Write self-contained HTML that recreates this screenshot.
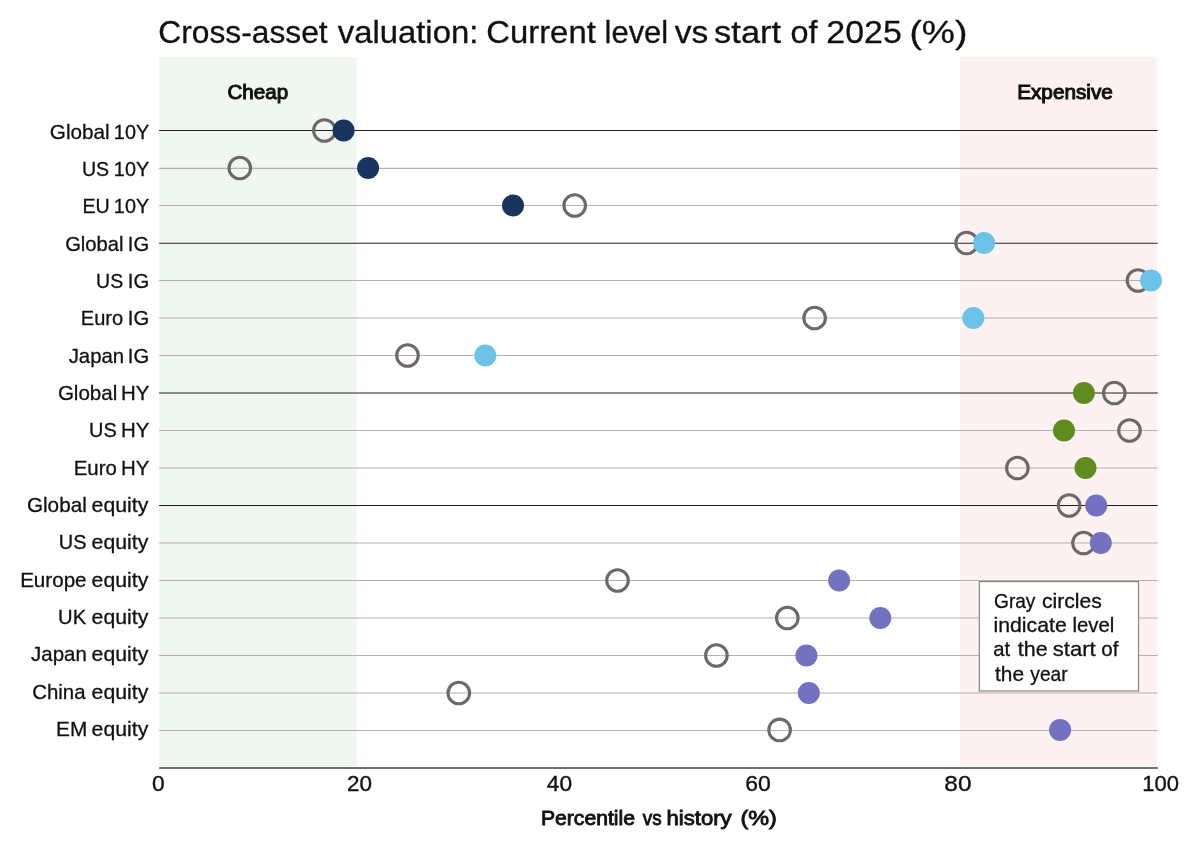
<!DOCTYPE html>
<html><head><meta charset="utf-8"><title>Cross-asset valuation</title>
<style>html,body{margin:0;padding:0;background:#fff}svg{display:block}text{font-family:"Liberation Sans",sans-serif;fill:#111}</style></head><body>
<svg width="1200" height="845" viewBox="0 0 1200 845">
<rect width="1200" height="845" fill="#fff"/>
<rect x="159.3" y="57.1" width="197.3" height="709.3" fill="#f0f7f1"/>
<rect x="960.2" y="57.1" width="196.8" height="709.3" fill="#fef1f1"/>
<line x1="159.1" y1="130.50" x2="1157.8" y2="130.50" stroke="#222" stroke-width="1.2"/>
<line x1="159.1" y1="168.40" x2="1157.8" y2="168.40" stroke="#b2b2b2" stroke-width="1.1"/>
<line x1="159.1" y1="205.50" x2="1157.8" y2="205.50" stroke="#b2b2b2" stroke-width="1.1"/>
<line x1="159.1" y1="243.25" x2="1157.8" y2="243.25" stroke="#222" stroke-width="1.2"/>
<line x1="159.1" y1="280.50" x2="1157.8" y2="280.50" stroke="#b2b2b2" stroke-width="1.1"/>
<line x1="159.1" y1="318.00" x2="1157.8" y2="318.00" stroke="#b2b2b2" stroke-width="1.1"/>
<line x1="159.1" y1="355.50" x2="1157.8" y2="355.50" stroke="#b2b2b2" stroke-width="1.1"/>
<line x1="159.1" y1="393.00" x2="1157.8" y2="393.00" stroke="#222" stroke-width="1.2"/>
<line x1="159.1" y1="430.50" x2="1157.8" y2="430.50" stroke="#b2b2b2" stroke-width="1.1"/>
<line x1="159.1" y1="468.00" x2="1157.8" y2="468.00" stroke="#b2b2b2" stroke-width="1.1"/>
<line x1="159.1" y1="505.50" x2="1157.8" y2="505.50" stroke="#1c1c1c" stroke-width="1.1"/>
<line x1="159.1" y1="543.00" x2="1157.8" y2="543.00" stroke="#b2b2b2" stroke-width="1.1"/>
<line x1="159.1" y1="580.50" x2="1157.8" y2="580.50" stroke="#b2b2b2" stroke-width="1.1"/>
<line x1="159.1" y1="618.00" x2="1157.8" y2="618.00" stroke="#b2b2b2" stroke-width="1.1"/>
<line x1="159.1" y1="655.50" x2="1157.8" y2="655.50" stroke="#b2b2b2" stroke-width="1.1"/>
<line x1="159.1" y1="693.00" x2="1157.8" y2="693.00" stroke="#b2b2b2" stroke-width="1.1"/>
<line x1="159.1" y1="730.50" x2="1157.8" y2="730.50" stroke="#b2b2b2" stroke-width="1.1"/>
<line x1="159.2" y1="767.9" x2="1157.8" y2="767.9" stroke="#726e6e" stroke-width="2.0"/>
<circle cx="324.4" cy="130.50" r="10.8" fill="none" stroke="#6e6868" stroke-width="3.1"/>
<circle cx="239.8" cy="168.00" r="10.8" fill="none" stroke="#6e6868" stroke-width="3.1"/>
<circle cx="574.7" cy="205.50" r="10.8" fill="none" stroke="#6e6868" stroke-width="3.1"/>
<circle cx="966.6" cy="243.00" r="10.8" fill="none" stroke="#6e6868" stroke-width="3.1"/>
<circle cx="1138.0" cy="280.50" r="10.8" fill="none" stroke="#6e6868" stroke-width="3.1"/>
<circle cx="814.6" cy="318.00" r="10.8" fill="none" stroke="#6e6868" stroke-width="3.1"/>
<circle cx="407.5" cy="355.50" r="10.8" fill="none" stroke="#6e6868" stroke-width="3.1"/>
<circle cx="1114.3" cy="393.00" r="10.8" fill="none" stroke="#6e6868" stroke-width="3.1"/>
<circle cx="1129.5" cy="430.50" r="10.8" fill="none" stroke="#6e6868" stroke-width="3.1"/>
<circle cx="1017.4" cy="468.00" r="10.8" fill="none" stroke="#6e6868" stroke-width="3.1"/>
<circle cx="1069.1" cy="505.50" r="10.8" fill="none" stroke="#6e6868" stroke-width="3.1"/>
<circle cx="1083.5" cy="543.00" r="10.8" fill="none" stroke="#6e6868" stroke-width="3.1"/>
<circle cx="617.5" cy="580.50" r="10.8" fill="none" stroke="#6e6868" stroke-width="3.1"/>
<circle cx="787.3" cy="618.00" r="10.8" fill="none" stroke="#6e6868" stroke-width="3.1"/>
<circle cx="716.4" cy="655.50" r="10.8" fill="none" stroke="#6e6868" stroke-width="3.1"/>
<circle cx="458.8" cy="693.00" r="10.8" fill="none" stroke="#6e6868" stroke-width="3.1"/>
<circle cx="779.6" cy="729.90" r="10.8" fill="none" stroke="#6e6868" stroke-width="3.1"/>
<circle cx="343.6" cy="130.50" r="11" fill="#19355f"/>
<circle cx="368.1" cy="168.00" r="11" fill="#19355f"/>
<circle cx="513.0" cy="205.50" r="11" fill="#19355f"/>
<circle cx="984.1" cy="243.00" r="11" fill="#6bc4e8"/>
<circle cx="1151.0" cy="280.50" r="11" fill="#6bc4e8"/>
<circle cx="973.3" cy="318.00" r="11" fill="#6bc4e8"/>
<circle cx="485.3" cy="355.50" r="11" fill="#6bc4e8"/>
<circle cx="1083.9" cy="393.00" r="11" fill="#5f8c1e"/>
<circle cx="1064.0" cy="430.50" r="11" fill="#5f8c1e"/>
<circle cx="1085.5" cy="468.00" r="11" fill="#5f8c1e"/>
<circle cx="1096.2" cy="505.50" r="11" fill="#7272c0"/>
<circle cx="1100.8" cy="543.00" r="11" fill="#7272c0"/>
<circle cx="839.1" cy="580.50" r="11" fill="#7272c0"/>
<circle cx="880.3" cy="618.00" r="11" fill="#7272c0"/>
<circle cx="806.4" cy="655.50" r="11" fill="#7272c0"/>
<circle cx="808.8" cy="693.00" r="11" fill="#7272c0"/>
<circle cx="1060.1" cy="729.90" r="11" fill="#7272c0"/>
<rect x="979.3" y="581.6" width="159.2" height="109.4" fill="#fff" stroke="#8a8686" stroke-width="1.2"/>
<g style="will-change:transform;mix-blend-mode:multiply">
<text x="158.34" y="43.3" font-size="31.8" stroke="#111" stroke-width="0.3" textLength="169.27" lengthAdjust="spacingAndGlyphs">Cross-asset</text>
<text x="337.75" y="43.3" font-size="31.8" stroke="#111" stroke-width="0.3" textLength="140.52" lengthAdjust="spacingAndGlyphs">valuation:</text>
<text x="486.29" y="43.3" font-size="31.8" stroke="#111" stroke-width="0.3" textLength="109.49" lengthAdjust="spacingAndGlyphs">Current</text>
<text x="604.58" y="43.3" font-size="31.8" stroke="#111" stroke-width="0.3" textLength="63.62" lengthAdjust="spacingAndGlyphs">level</text>
<text x="674.75" y="43.3" font-size="31.8" stroke="#111" stroke-width="0.3" textLength="33.53" lengthAdjust="spacingAndGlyphs">vs</text>
<text x="714.10" y="43.3" font-size="31.8" stroke="#111" stroke-width="0.3" textLength="67.00" lengthAdjust="spacingAndGlyphs">start</text>
<text x="790.61" y="43.3" font-size="31.8" stroke="#111" stroke-width="0.3" textLength="27.02" lengthAdjust="spacingAndGlyphs">of</text>
<text x="826.33" y="43.3" font-size="31.8" stroke="#111" stroke-width="0.3" textLength="75.49" lengthAdjust="spacingAndGlyphs">2025</text>
<text x="909.41" y="43.3" font-size="31.8" stroke="#111" stroke-width="0.3" textLength="57.94" lengthAdjust="spacingAndGlyphs">(%)</text>
<text x="227.46" y="98.5" font-size="19.6" stroke="#111" stroke-width="1.0" textLength="60.70" lengthAdjust="spacingAndGlyphs">Cheap</text>
<text x="1017.17" y="98.5" font-size="19.6" stroke="#111" stroke-width="1.0" textLength="95.68" lengthAdjust="spacingAndGlyphs">Expensive</text>
<text x="49.88" y="138.8" font-size="20.7" stroke="#111" stroke-width="0.3" textLength="59.83" lengthAdjust="spacingAndGlyphs">Global</text>
<text x="113.87" y="138.8" font-size="20.7" stroke="#111" stroke-width="0.3" textLength="35.33" lengthAdjust="spacingAndGlyphs">10Y</text>
<text x="81.88" y="176.1" font-size="20.7" stroke="#111" stroke-width="0.3" textLength="27.20" lengthAdjust="spacingAndGlyphs">US</text>
<text x="113.87" y="176.1" font-size="20.7" stroke="#111" stroke-width="0.3" textLength="35.33" lengthAdjust="spacingAndGlyphs">10Y</text>
<text x="82.49" y="213.4" font-size="20.7" stroke="#111" stroke-width="0.3" textLength="27.27" lengthAdjust="spacingAndGlyphs">EU</text>
<text x="113.87" y="213.4" font-size="20.7" stroke="#111" stroke-width="0.3" textLength="35.33" lengthAdjust="spacingAndGlyphs">10Y</text>
<text x="65.17" y="250.7" font-size="20.7" stroke="#111" stroke-width="0.3" textLength="58.41" lengthAdjust="spacingAndGlyphs">Global</text>
<text x="127.80" y="250.7" font-size="20.7" stroke="#111" stroke-width="0.3" textLength="21.37" lengthAdjust="spacingAndGlyphs">IG</text>
<text x="96.10" y="288.1" font-size="20.7" stroke="#111" stroke-width="0.3" textLength="27.13" lengthAdjust="spacingAndGlyphs">US</text>
<text x="127.80" y="288.1" font-size="20.7" stroke="#111" stroke-width="0.3" textLength="21.37" lengthAdjust="spacingAndGlyphs">IG</text>
<text x="80.79" y="325.4" font-size="20.7" stroke="#111" stroke-width="0.3" textLength="42.33" lengthAdjust="spacingAndGlyphs">Euro</text>
<text x="127.80" y="325.4" font-size="20.7" stroke="#111" stroke-width="0.3" textLength="21.37" lengthAdjust="spacingAndGlyphs">IG</text>
<text x="68.67" y="362.7" font-size="20.7" stroke="#111" stroke-width="0.3" textLength="55.54" lengthAdjust="spacingAndGlyphs">Japan</text>
<text x="127.80" y="362.7" font-size="20.7" stroke="#111" stroke-width="0.3" textLength="21.37" lengthAdjust="spacingAndGlyphs">IG</text>
<text x="57.88" y="400.0" font-size="20.7" stroke="#111" stroke-width="0.3" textLength="59.45" lengthAdjust="spacingAndGlyphs">Global</text>
<text x="121.05" y="400.0" font-size="20.7" stroke="#111" stroke-width="0.3" textLength="28.39" lengthAdjust="spacingAndGlyphs">HY</text>
<text x="89.11" y="437.3" font-size="20.7" stroke="#111" stroke-width="0.3" textLength="27.74" lengthAdjust="spacingAndGlyphs">US</text>
<text x="121.05" y="437.3" font-size="20.7" stroke="#111" stroke-width="0.3" textLength="28.39" lengthAdjust="spacingAndGlyphs">HY</text>
<text x="73.76" y="474.6" font-size="20.7" stroke="#111" stroke-width="0.3" textLength="43.05" lengthAdjust="spacingAndGlyphs">Euro</text>
<text x="121.05" y="474.6" font-size="20.7" stroke="#111" stroke-width="0.3" textLength="28.39" lengthAdjust="spacingAndGlyphs">HY</text>
<text x="26.92" y="511.9" font-size="20.7" stroke="#111" stroke-width="0.3" textLength="59.89" lengthAdjust="spacingAndGlyphs">Global</text>
<text x="91.60" y="511.9" font-size="20.7" stroke="#111" stroke-width="0.3" textLength="56.68" lengthAdjust="spacingAndGlyphs">equity</text>
<text x="58.84" y="549.2" font-size="20.7" stroke="#111" stroke-width="0.3" textLength="27.66" lengthAdjust="spacingAndGlyphs">US</text>
<text x="91.60" y="549.2" font-size="20.7" stroke="#111" stroke-width="0.3" textLength="56.68" lengthAdjust="spacingAndGlyphs">equity</text>
<text x="20.13" y="586.5" font-size="20.7" stroke="#111" stroke-width="0.3" textLength="66.46" lengthAdjust="spacingAndGlyphs">Europe</text>
<text x="91.60" y="586.5" font-size="20.7" stroke="#111" stroke-width="0.3" textLength="56.68" lengthAdjust="spacingAndGlyphs">equity</text>
<text x="58.08" y="623.9" font-size="20.7" stroke="#111" stroke-width="0.3" textLength="28.07" lengthAdjust="spacingAndGlyphs">UK</text>
<text x="91.60" y="623.9" font-size="20.7" stroke="#111" stroke-width="0.3" textLength="56.68" lengthAdjust="spacingAndGlyphs">equity</text>
<text x="31.12" y="661.2" font-size="20.7" stroke="#111" stroke-width="0.3" textLength="55.65" lengthAdjust="spacingAndGlyphs">Japan</text>
<text x="91.60" y="661.2" font-size="20.7" stroke="#111" stroke-width="0.3" textLength="56.68" lengthAdjust="spacingAndGlyphs">equity</text>
<text x="32.16" y="698.5" font-size="20.7" stroke="#111" stroke-width="0.3" textLength="53.40" lengthAdjust="spacingAndGlyphs">China</text>
<text x="91.60" y="698.5" font-size="20.7" stroke="#111" stroke-width="0.3" textLength="56.68" lengthAdjust="spacingAndGlyphs">equity</text>
<text x="56.04" y="735.8" font-size="20.7" stroke="#111" stroke-width="0.3" textLength="31.18" lengthAdjust="spacingAndGlyphs">EM</text>
<text x="91.60" y="735.8" font-size="20.7" stroke="#111" stroke-width="0.3" textLength="56.68" lengthAdjust="spacingAndGlyphs">equity</text>
<text x="152.05" y="791.0" font-size="21.4" stroke="#111" stroke-width="0.35" textLength="12.66" lengthAdjust="spacingAndGlyphs">0</text>
<text x="346.91" y="791.0" font-size="21.4" stroke="#111" stroke-width="0.35" textLength="25.01" lengthAdjust="spacingAndGlyphs">20</text>
<text x="546.85" y="791.0" font-size="21.4" stroke="#111" stroke-width="0.35" textLength="25.27" lengthAdjust="spacingAndGlyphs">40</text>
<text x="745.19" y="791.0" font-size="21.4" stroke="#111" stroke-width="0.35" textLength="25.61" lengthAdjust="spacingAndGlyphs">60</text>
<text x="944.39" y="791.0" font-size="21.4" stroke="#111" stroke-width="0.35" textLength="27.01" lengthAdjust="spacingAndGlyphs">80</text>
<text x="1142.36" y="791.0" font-size="21.4" stroke="#111" stroke-width="0.35" textLength="36.77" lengthAdjust="spacingAndGlyphs">100</text>
<text x="540.97" y="825.3" font-size="19.7" stroke="#111" stroke-width="0.85" textLength="94.01" lengthAdjust="spacingAndGlyphs">Percentile</text>
<text x="642.80" y="825.3" font-size="19.7" stroke="#111" stroke-width="0.85" textLength="18.72" lengthAdjust="spacingAndGlyphs">vs</text>
<text x="666.60" y="825.3" font-size="19.7" stroke="#111" stroke-width="0.85" textLength="65.02" lengthAdjust="spacingAndGlyphs">history</text>
<text x="740.47" y="825.3" font-size="19.7" stroke="#111" stroke-width="0.85" textLength="36.39" lengthAdjust="spacingAndGlyphs">(%)</text>
<text x="994.04" y="607.6" font-size="20.4" stroke="#111" stroke-width="0.3" textLength="41.37" lengthAdjust="spacingAndGlyphs">Gray</text>
<text x="1042.01" y="607.6" font-size="20.4" stroke="#111" stroke-width="0.3" textLength="59.81" lengthAdjust="spacingAndGlyphs">circles</text>
<text x="993.47" y="631.9" font-size="20.4" stroke="#111" stroke-width="0.3" textLength="73.34" lengthAdjust="spacingAndGlyphs">indicate</text>
<text x="1072.49" y="631.9" font-size="20.4" stroke="#111" stroke-width="0.3" textLength="41.83" lengthAdjust="spacingAndGlyphs">level</text>
<text x="993.33" y="656.2" font-size="20.4" stroke="#111" stroke-width="0.3" textLength="16.88" lengthAdjust="spacingAndGlyphs">at</text>
<text x="1017.77" y="656.2" font-size="20.4" stroke="#111" stroke-width="0.3" textLength="29.85" lengthAdjust="spacingAndGlyphs">the</text>
<text x="1052.79" y="656.2" font-size="20.4" stroke="#111" stroke-width="0.3" textLength="42.84" lengthAdjust="spacingAndGlyphs">start</text>
<text x="1101.35" y="656.2" font-size="20.4" stroke="#111" stroke-width="0.3" textLength="17.14" lengthAdjust="spacingAndGlyphs">of</text>
<text x="995.07" y="680.5" font-size="20.4" stroke="#111" stroke-width="0.3" textLength="28.94" lengthAdjust="spacingAndGlyphs">the</text>
<text x="1030.29" y="680.5" font-size="20.4" stroke="#111" stroke-width="0.3" textLength="37.39" lengthAdjust="spacingAndGlyphs">year</text>
</g>
</svg></body></html>
